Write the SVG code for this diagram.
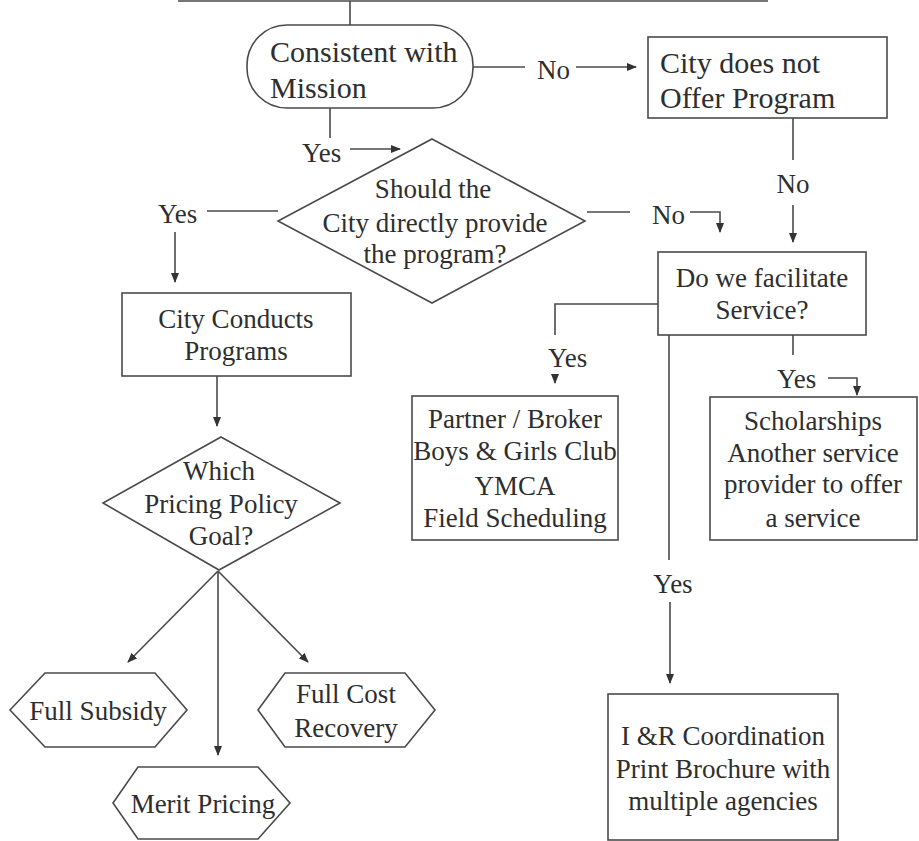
<svg xmlns="http://www.w3.org/2000/svg" width="919" height="841" viewBox="0 0 919 841" font-family="'Liberation Serif', 'DejaVu Serif', serif">
<style>
.s{fill:none;stroke:#4a4a4a;stroke-width:1.6}
.n{fill:#fff;stroke:#4a4a4a;stroke-width:1.6}
text{font-family:'Liberation Serif','DejaVu Serif',serif;font-size:27px;fill:#2e2e2e}
.c{text-anchor:middle}
.b{font-size:30px}
</style>
<defs>
<marker id="a" markerWidth="10" markerHeight="8" refX="9" refY="4" orient="auto" markerUnits="userSpaceOnUse">
<path d="M0,0 L10,4 L0,8 Z" fill="#333"/>
</marker>
</defs>
<rect width="919" height="841" fill="#fff"/>
<g id="connectors">
<path class="s" d="M178,1 H768 M350,1 V25"/>
<path class="s" d="M473,67 H525"/>
<text x="537" y="79">No</text>
<path class="s" d="M576,67 H636" marker-end="url(#a)"/>
<path class="s" d="M330,108 V138"/>
<text x="302" y="162">Yes</text>
<path class="s" d="M350,149 H400" marker-end="url(#a)"/>
<path class="s" d="M793,118 V160"/>
<text class="c" x="793" y="193">No</text>
<path class="s" d="M793,205 V242" marker-end="url(#a)"/>
<path class="s" d="M278,211 H207"/>
<text x="158" y="223">Yes</text>
<path class="s" d="M175,232 V282" marker-end="url(#a)"/>
<path class="s" d="M587,212 H630"/>
<text x="652" y="224">No</text>
<path class="s" d="M690,212 H720 V232" marker-end="url(#a)"/>
<path class="s" d="M217,376 V426" marker-end="url(#a)"/>
<path class="s" d="M218,571 L128,662" marker-end="url(#a)"/>
<path class="s" d="M218,571 V755" marker-end="url(#a)"/>
<path class="s" d="M218,571 L308,662" marker-end="url(#a)"/>
<path class="s" d="M658,304 H555 V335"/>
<text x="548" y="367">Yes</text>
<path class="s" d="M555,376 V383" marker-end="url(#a)"/>
<path class="s" d="M669,335 V560"/>
<text class="c" x="673" y="593">Yes</text>
<path class="s" d="M670,602 V683" marker-end="url(#a)"/>
<path class="s" d="M793,335 V355"/>
<text x="777" y="388">Yes</text>
<path class="s" d="M828,378 H857 V395" marker-end="url(#a)"/>
</g>
<g id="mission">
<rect class="n" x="247" y="25" width="226" height="83" rx="40"/>
<text class="b" x="270" y="62">Consistent with</text>
<text class="b" x="270" y="98">Mission</text>
</g>
<g id="notoffer">
<rect class="n" x="648" y="37" width="239" height="81"/>
<text class="b" x="660" y="73">City does not</text>
<text class="b" x="660" y="108">Offer Program</text>
</g>
<g id="directly">
<polygon class="n" points="432,139 585,221 432,303 278,221"/>
<text class="c" x="433" y="198">Should the</text>
<text class="c" x="435" y="232">City directly provide</text>
<text class="c" x="435" y="263">the program?</text>
</g>
<g id="facilitate">
<rect class="n" x="658" y="252" width="208" height="83"/>
<text class="c" x="762" y="287">Do we facilitate</text>
<text class="c" x="762" y="319">Service?</text>
</g>
<g id="conducts">
<rect class="n" x="122" y="293" width="229" height="83"/>
<text class="c" x="236" y="328">City Conducts</text>
<text class="c" x="236" y="360">Programs</text>
</g>
<g id="pricing">
<polygon class="n" points="221,437 340,503 219,570 103,503"/>
<text class="c" x="219" y="480">Which</text>
<text class="c" x="221" y="513">Pricing Policy</text>
<text class="c" x="221" y="545">Goal?</text>
</g>
<g id="partner">
<rect class="n" x="412" y="396" width="206" height="144"/>
<text class="c" x="515" y="428">Partner / Broker</text>
<text class="c" x="515" y="460">Boys &amp; Girls Club</text>
<text class="c" x="515" y="495">YMCA</text>
<text class="c" x="515" y="527">Field Scheduling</text>
</g>
<g id="scholarships">
<rect class="n" x="710" y="397" width="207" height="143"/>
<text class="c" x="813" y="430">Scholarships</text>
<text class="c" x="813" y="462">Another service</text>
<text class="c" x="813" y="493">provider to offer</text>
<text class="c" x="813" y="527">a service</text>
</g>
<g id="coordination">
<rect class="n" x="608" y="694" width="230" height="146"/>
<text class="c" x="723" y="745">I &amp;R Coordination</text>
<text class="c" x="723" y="778">Print Brochure with</text>
<text class="c" x="723" y="810">multiple agencies</text>
</g>
<g id="subsidy">
<polygon class="n" points="10,710 45,673 155,673 187,710 155,747 45,747"/>
<text class="c" x="98" y="720">Full Subsidy</text>
</g>
<g id="fullcost">
<polygon class="n" points="258,710 285,673 405,673 435,710 405,747 285,747"/>
<text class="c" x="346" y="703">Full Cost</text>
<text class="c" x="346" y="737">Recovery</text>
</g>
<g id="merit">
<polygon class="n" points="113,803 138,767 258,767 290,803 258,839 138,839"/>
<text class="c" x="203" y="813">Merit Pricing</text>
</g>
</svg>
